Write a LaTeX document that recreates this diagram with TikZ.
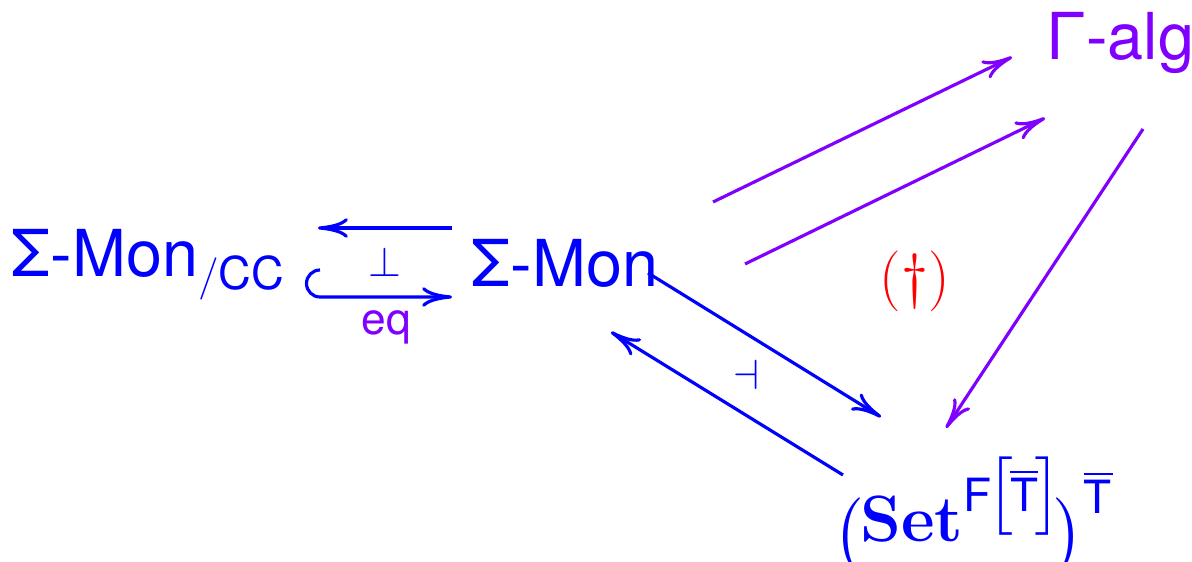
\documentclass[tikz,border=0pt]{standalone}
\usepackage{amsmath,amssymb}
\usepackage{graphicx}
\usepackage[no-math]{fontspec}
\setmainfont{TeX Gyre Heros}
\setsansfont{TeX Gyre Heros}
\newfontfamily\setfont{Latin Modern Roman}
\usepackage{xcolor}
\usetikzlibrary{arrows.meta}
\definecolor{catblue}  {RGB}{0,0,255}
\definecolor{catviolet}{RGB}{127,0,255}
\definecolor{catred}   {RGB}{255,0,0}
\newcommand{\Tbar}{\overline{\text{T}}}
\newcommand{\lpar}{\mathopen{\raisebox{-2.8pt}{$\bigl($}}}
\newcommand{\rpar}{\mathclose{\raisebox{-2.8pt}{$\bigr)$}}}

\begin{document}
\begin{tikzpicture}[
  x=0.01cm, y=-0.01cm,
  >={Computer Modern Rightarrow[length=8.5pt,width=5.6pt]},
  obj/.style={inner sep=0pt,anchor=base west,
              font=\fontsize{18.4}{22}\selectfont},
  lbl/.style={inner sep=0pt,font=\fontsize{12.6}{14}\selectfont},
  bmap/.style={->,catblue,line width=0.9pt},
  vmap/.style={->,catviolet,line width=0.9pt},
]
\useasboundingbox (0,0) rectangle (1192,562);

%% -- objects -----------------------------------------------------------------
\node[obj,catblue] (smcc) at (11,277) {Σ-Mon$_{/\text{CC}}$};
\node[obj,catblue] (smon) at (471,287) {Σ-Mon};
\node[obj,catviolet] (galg) at (1046,60) {Γ-alg};
\node[obj,catblue,font=\fontsize{18.6}{23.3}\selectfont] (setT) at (833,542)
  {$\lpar\mkern-1mu\text{\setfont\bfseries Set}^{\text{F}\mkern-2mu
   \bigl[\mkern-1.5mu\Tbar\mkern-1.5mu\bigr]}\mkern-3mu\rpar^{\Tbar}$};

%% -- adjunction on the left ---------------------------------------------------
\draw[bmap] ([shift={(-19,-59)}]smon.base west)
  -- ([shift={(307,-49)}]smcc.base west);
\draw[bmap] ([shift={(309,-7)}]smcc.base west)
  arc[start angle=90,end angle=270,radius=0.135cm]
  -- ([shift={(-19,10)}]smon.base west);
\node[lbl,catblue] (perp) at (385,262) {$\perp$};
\node[lbl,catviolet] (eq) at (386,327) {eq};

%% -- adjunction to the monad algebras ------------------------------------------
\draw[bmap] ([shift={(177,-14)}]smon.base west)
  -- ([shift={(48,-125)}]setT.base west);
\draw[bmap] ([shift={(10,-67)}]setT.base west)
  -- ([shift={(140,45)}]smon.base west);
\node[lbl,catblue] (dashv) at (746,375) {$\dashv$};

%% -- maps into and out of Gamma-alg ------------------------------------------
\draw[vmap] ([shift={(242,-85)}]smon.base west)
  -- ([shift={(-34,-3)}]galg.base west);
\draw[vmap] ([shift={(274,-23)}]smon.base west)
  -- ([shift={(-1,58)}]galg.base west);
\draw[vmap] ([shift={(97,69)}]galg.base west)
  -- ([shift={(113,-114)}]setT.base west);

\node[inner sep=0pt,catred,font=\fontsize{16}{18}\selectfont] (dag)
  at (915,281) {$(\dagger)$};
\end{tikzpicture}
\end{document}
